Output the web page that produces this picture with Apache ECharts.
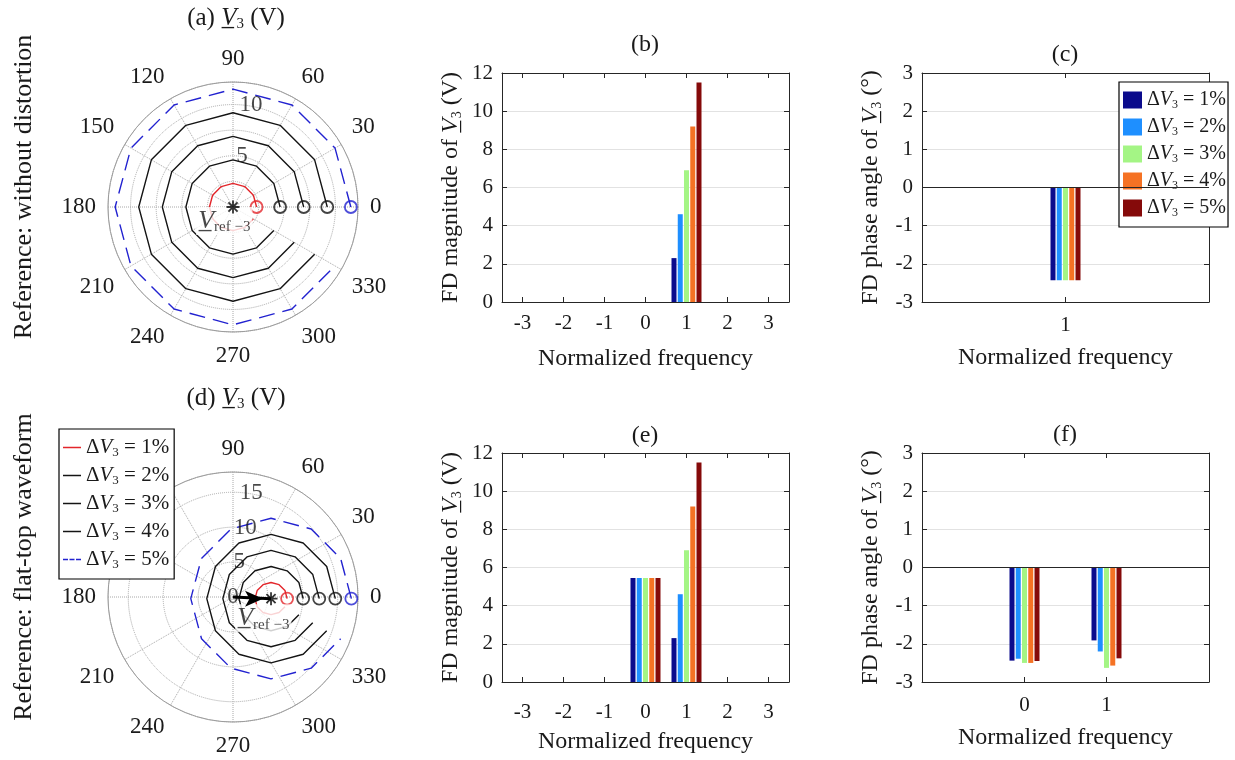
<!DOCTYPE html>
<html>
<head>
<meta charset="utf-8">
<script src="https://cdn.jsdelivr.net/npm/echarts@6/dist/echarts.min.js"></script>
<style>
  html, body { margin: 0; background: #fff; }
  #chart { width: 1235px; height: 760px; }
</style>
</head>
<body>
<div id="chart"></div>
<script>
const FONT = '"Liberation Serif", "Times New Roman", serif';
const INK = '#1a1a1a';

// ---- polar panels (a) and (d): trajectory samples, one every 30 degrees ----
const angles = [0, 30, 60, 90, 120, 150, 180, 210, 240, 270, 300, 330];
const radiiA = [2.3, 4.6, 6.9, 9.2, 11.5];   // (a) circles around the origin
const radTicksA = [5, 10];
const radTicksD = [5, 10, 15];

// (d) circles shifted by the DC component: radius / angle of each sample
const dR1 = [7.75, 7.50, 6.83, 5.83, 4.65, 3.58, 3.16, 3.72, 4.84, 6.01, 6.96, 7.57];
const dA1 = [358.3, 7.1, 15.0, 20.8, 22.3, 14.9, 355.8, 338.2, 332.7, 335.1, 341.4, 349.5];
const dR2 = [10.05, 9.66, 8.61, 6.99, 4.90, 2.54, 0.88, 2.92, 5.26, 7.28, 8.82, 9.77];
const dA2 = [358.7, 12.4, 25.8, 38.7, 50.0, 54.7, 344.9, 300.1, 306.8, 318.4, 331.5, 345.0];
const dR3 = [12.35, 11.87, 10.59, 8.61, 6.08, 3.26, 1.47, 3.72, 6.52, 8.97, 10.85, 12.00];
const dA3 = [358.9, 15.7, 32.9, 50.8, 70.8, 99.3, 189.0, 261.9, 287.9, 307.4, 325.1, 342.1];
const dR4 = [14.65, 14.11, 12.68, 10.50, 7.78, 5.04, 3.76, 5.45, 8.24, 10.89, 12.97, 14.26];
const dA4 = [359.1, 18.0, 37.6, 58.7, 83.7, 119.9, 183.5, 242.5, 275.9, 300.0, 320.8, 340.2];
const dR5 = [16.95, 16.37, 14.84, 12.52, 9.73, 7.13, 6.05, 7.49, 10.19, 12.93, 15.14, 16.53];
const dA5 = [359.2, 19.7, 41.0, 64.2, 91.8, 129.3, 182.2, 233.0, 268.3, 294.9, 317.7, 338.8];
const dcPoint = [5.45, 357.55];

// ---- bar panels ----
const freqBE = ['-3', '-2', '-1', '0', '1', '2', '3'];
const freqC = ['1'];
const magF1 = [2.3, 4.6, 6.9, 9.2, 11.5];        // (b) and (e) at frequency 1
const magF0 = [5.45, 5.45, 5.45, 5.45, 5.45];    // (e) at frequency 0
const phaseC = [-2.43, -2.43, -2.43, -2.43, -2.43];
const phaseF0 = [-2.44, -2.39, -2.50, -2.50, -2.45];
const phaseF1 = [-1.91, -2.20, -2.63, -2.57, -2.38];
const pctLabels = ['1%', '2%', '3%', '4%', '5%'];

const curveColors = ['#e3262b', '#141414', '#141414', '#141414', '#2222d0'];
const curveTypes = ['solid', 'solid', 'solid', 'solid', [16, 8]];
const barColors = ['#0b0b8c', '#1e8fff', '#a4f585', '#f57224', '#850a0a'];

function rich(size) {
  return {
    n: { fontSize: size, fontFamily: FONT, color: INK, lineHeight: size + 2 },
    v: { fontSize: size, fontFamily: FONT, fontStyle: 'italic', color: INK, lineHeight: size + 2 },
    d: { fontSize: size, fontFamily: FONT, color: INK, lineHeight: size + 2 },
    s: { fontSize: Math.round(size * 0.6), fontFamily: FONT, color: INK, verticalAlign: 'bottom', lineHeight: Math.round(size * 0.42) }
  };
}
const UV = 'V\u0332';

const chart = echarts.init(document.getElementById('chart'));
const series = [];

// (a) curves
radiiA.forEach((r, k) => {
  series.push({
    type: 'line', name: 'p' + (k + 1), coordinateSystem: 'polar', polarIndex: 0,
    data: angles.map(a => [r, a]), symbol: 'none', color: curveColors[k],
    lineStyle: { width: 1.4, type: curveTypes[k] }, z: 3, silent: true
  });
});
// (d) curves
[[dR1, dA1], [dR2, dA2], [dR3, dA3], [dR4, dA4], [dR5, dA5]].forEach(([rs, as], k) => {
  series.push({
    type: 'line', name: 'p' + (k + 1), coordinateSystem: 'polar', polarIndex: 1,
    data: rs.map((r, i) => [r, as[i]]), symbol: 'none', color: curveColors[k],
    lineStyle: { width: 1.4, type: curveTypes[k] }, z: 3, silent: true
  });
});
// start markers
const markerStyle = { color: 'rgba(0,0,0,0)', borderWidth: 1.8 };
series.push({
  type: 'scatter', name: 'mA', coordinateSystem: 'polar', polarIndex: 0, symbol: 'circle', symbolSize: 12,
  itemStyle: markerStyle, z: 4, silent: true,
  data: radiiA.map((r, k) => ({ value: [r, 0], itemStyle: { borderColor: curveColors[k] } }))
});
series.push({
  type: 'scatter', name: 'mD', coordinateSystem: 'polar', polarIndex: 1, symbol: 'circle', symbolSize: 12,
  itemStyle: markerStyle, z: 4, silent: true,
  data: [[dR1, dA1], [dR2, dA2], [dR3, dA3], [dR4, dA4], [dR5, dA5]].map(([rs, as], k) =>
    ({ value: [rs[0], as[0]], itemStyle: { borderColor: curveColors[k] } }))
});
// V_ref-3 labels
const refLabel = {
  show: true, position: 'inside', formatter: '{v|' + UV + '}{s|ref \u22123}',
  backgroundColor: '#fff', padding: [0, 2, 0, 2],
  rich: {
    v: { fontSize: 26, fontFamily: FONT, fontStyle: 'italic', color: INK, lineHeight: 28 },
    s: { fontSize: 15, fontFamily: FONT, color: INK, verticalAlign: 'bottom', lineHeight: 12 }
  }
};
series.push({
  type: 'scatter', name: 'refA', coordinateSystem: 'polar', polarIndex: 0, symbolSize: 1,
  itemStyle: { color: 'rgba(0,0,0,0)' }, z: 5, silent: true, label: refLabel, data: [[1.6, 238]]
});
series.push({
  type: 'scatter', name: 'refD', coordinateSystem: 'polar', polarIndex: 1, symbolSize: 1,
  itemStyle: { color: 'rgba(0,0,0,0)' }, z: 5, silent: true, label: refLabel, data: [[5.3, 325]]
});
// radial tick labels
const radLabel = { show: true, position: 'inside', formatter: '{b}', fontSize: 23, fontFamily: FONT, color: INK };
series.push({
  type: 'scatter', name: 'rtA', coordinateSystem: 'polar', polarIndex: 0, symbolSize: 1,
  itemStyle: { color: 'rgba(0,0,0,0)' }, z: 4, silent: true, label: radLabel,
  data: radTicksA.map(t => ({ value: [t + 0.1, 80], name: String(t) }))
});
series.push({
  type: 'scatter', name: 'rtD', coordinateSystem: 'polar', polarIndex: 1, symbolSize: 1,
  itemStyle: { color: 'rgba(0,0,0,0)' }, z: 4, silent: true, label: radLabel,
  data: [{ value: [0, 0], name: '0' }].concat(radTicksD.map(t => ({ value: [t + 0.1, 80], name: String(t) })))
});
// arrow to the DC point in (d)
series.push({
  type: 'line', name: 'arrow', coordinateSystem: 'polar', polarIndex: 1, symbol: 'none', silent: true, z: 6,
  color: '#000', lineStyle: { width: 3, color: '#000' },
  data: [{ value: [0, 0] }, { value: dcPoint, symbol: 'arrow', symbolSize: [12, 18], symbolRotate: -90, symbolOffset: [-8, 0] }]
});
// asterisks
const star = 'path://M10,0V20M0,10H20M3,3L17,17M3,17L17,3';
series.push({
  type: 'scatter', name: 'starA', coordinateSystem: 'polar', polarIndex: 0, symbol: star, symbolSize: 13,
  itemStyle: { color: 'rgba(0,0,0,0)', borderColor: '#000', borderWidth: 1.8 }, z: 7, silent: true, data: [[0, 0]]
});
series.push({
  type: 'scatter', name: 'starD', coordinateSystem: 'polar', polarIndex: 1, symbol: star, symbolSize: 13,
  itemStyle: { color: 'rgba(0,0,0,0)', borderColor: '#000', borderWidth: 1.8 }, z: 7, silent: true, data: [dcPoint]
});

// ---- bar grids ----
const grids = [
  { left: 502, top: 73, width: 287, height: 229 },   // (b)
  { left: 922, top: 73, width: 287, height: 229 },   // (c)
  { left: 502, top: 453, width: 287, height: 229 },  // (e)
  { left: 922, top: 453, width: 287, height: 229 }   // (f)
];
const axLine = { show: true, onZero: false, lineStyle: { color: '#262626', width: 1 } };
const axTick = { show: true, inside: true, length: 5, lineStyle: { color: '#262626' } };
const tickFont = { fontSize: 21, fontFamily: FONT, color: INK };
const nameFont = { fontSize: 24, fontFamily: FONT, color: INK, rich: rich(24) };

const xSpecs = [
  { cats: freqBE, margin: 11, gap: 45 },
  { cats: freqC, margin: 13, gap: 44 },
  { cats: freqBE, margin: 20, gap: 48 },
  { value: true, margin: 13, gap: 44 }
];
const ySpecs = [
  { min: 0, max: 12, interval: 2, name: 'FD magnitude of {v|' + UV + '}{s|3}{n| (V)}' },
  { min: -3, max: 3, interval: 1, name: 'FD phase angle of {v|' + UV + '}{s|3}{n| (\u00b0)}' },
  { min: 0, max: 12, interval: 2, name: 'FD magnitude of {v|' + UV + '}{s|3}{n| (V)}' },
  { min: -3, max: 3, interval: 1, name: 'FD phase angle of {v|' + UV + '}{s|3}{n| (\u00b0)}' }
];

const xAxis = [];
const yAxis = [];
xSpecs.forEach((s, g) => {
  const base = s.value
    ? { type: 'value', min: -1.25, max: 2.25, splitLine: { show: false } }
    : { type: 'category', data: s.cats, boundaryGap: true, splitLine: { show: false } };
  const tick = s.value ? Object.assign({}, axTick, { customValues: [0, 1] }) : Object.assign({}, axTick, { alignWithLabel: true });
  xAxis.push(Object.assign({}, base, {
    gridIndex: g, position: 'bottom', axisLine: axLine, axisTick: tick,
    axisLabel: Object.assign({ margin: s.margin }, tickFont, s.value ? { customValues: [0, 1] } : {}),
    name: 'Normalized frequency', nameLocation: 'middle', nameGap: s.gap, nameTextStyle: nameFont
  }));
  xAxis.push(Object.assign({}, base, {
    gridIndex: g, position: 'top', axisLine: axLine, axisTick: tick, axisLabel: { show: false }
  }));
  const y = ySpecs[g];
  yAxis.push({
    type: 'value', gridIndex: g, position: 'left', min: y.min, max: y.max, interval: y.interval,
    axisLine: axLine, axisTick: axTick, axisLabel: Object.assign({ margin: 9 }, tickFont),
    splitLine: { show: true, lineStyle: { color: '#e2e2e2', width: 1 } },
    name: y.name, nameLocation: 'middle', nameRotate: 90, nameGap: 38, nameTextStyle: nameFont
  });
  yAxis.push({
    type: 'value', gridIndex: g, position: 'right', min: y.min, max: y.max, interval: y.interval,
    axisLine: axLine, axisTick: axTick, axisLabel: { show: false }, splitLine: { show: false }
  });
});

const zeroLine = {
  silent: true, symbol: 'none', label: { show: false },
  lineStyle: { color: '#262626', type: 'solid', width: 1 }, data: [{ yAxis: 0 }]
};
function bars(g, k, data) {
  const s = {
    type: 'bar', name: 'b' + (k + 1), xAxisIndex: 2 * g, yAxisIndex: 2 * g, data: data,
    barWidth: 5, barGap: '25%', itemStyle: { color: barColors[k] }, silent: true, z: 3
  };
  if (k === 0 && (g === 1 || g === 3)) s.markLine = zeroLine;
  return s;
}
for (let k = 0; k < 5; k++) {
  series.push(bars(0, k, [['1', magF1[k]]]));
  series.push(bars(1, k, [['1', phaseC[k]]]));
  series.push(bars(2, k, [['0', magF0[k]], ['1', magF1[k]]]));
  series.push(bars(3, k, [[0, phaseF0[k]], [1, phaseF1[k]]]));
}

const legendText = name => {
  const k = parseInt(name.slice(1), 10) - 1;
  return '{d|\u0394}{v|V}{s|3}{n| = ' + pctLabels[k] + '}';
};
const legendCommon = {
  orient: 'vertical', selectedMode: false, borderColor: '#000', borderWidth: 1.2,
  backgroundColor: '#fff', itemGap: 6, formatter: legendText,
  itemStyle: { borderWidth: 0 },
  textStyle: { fontSize: 21, fontFamily: FONT, color: INK, rich: rich(21) }
};
const iconSolid = 'path://M0,0H18V1.5H0Z';
const iconDash = 'path://M0,0H5V1.5H0ZM6.5,0H11.5V1.5H6.5ZM13,0H18V1.5H13Z';

const panelTitle = (x, y, text, size) => ({
  type: 'text', x: x, y: y, silent: true,
  style: { text: text, rich: rich(size), fontSize: size, fontFamily: FONT, fill: INK, align: 'center', verticalAlign: 'middle' }
});

chart.setOption({
  animation: false,
  backgroundColor: '#fff',
  textStyle: { fontFamily: FONT },
  polar: [
    { center: [233, 207], radius: 125 },
    { center: [233, 597], radius: 125 }
  ],
  angleAxis: [0, 1].map(i => ({
    polarIndex: i, type: 'value', min: 0, max: 360, interval: 30, startAngle: 0, clockwise: false,
    axisLine: { show: true, lineStyle: { color: '#9c9c9c', width: 1 } },
    axisTick: { show: false },
    axisLabel: { fontSize: 23, fontFamily: FONT, color: INK, margin: 12, formatter: v => (v === 360 ? '' : String(v)) },
    splitLine: { show: true, lineStyle: { color: '#a8a8a8', type: 'dotted', width: 1 } }
  })),
  radiusAxis: [
    { polarIndex: 0, type: 'value', min: 0, max: 12.2, interval: 2.5 },
    { polarIndex: 1, type: 'value', min: 0, max: 17.9, interval: 5 }
  ].map(r => Object.assign(r, {
    axisLine: { show: false }, axisTick: { show: false }, axisLabel: { show: false },
    splitLine: { show: true, lineStyle: { color: '#a8a8a8', type: 'dotted', width: 1 } }
  })),
  grid: grids,
  xAxis: xAxis,
  yAxis: yAxis,
  legend: [
    Object.assign({}, legendCommon, {
      left: 1119, top: 82, padding: [8, 2, 8, 4], itemWidth: 19, itemHeight: 17,
      textStyle: { fontSize: 20, fontFamily: FONT, color: INK, rich: rich(20) },
      data: ['b1', 'b2', 'b3', 'b4', 'b5'].map(n => ({ name: n, icon: 'rect' }))
    }),
    Object.assign({}, legendCommon, {
      left: 59, top: 429, padding: [8, 5, 8, 4], itemWidth: 18, itemHeight: 1.5,
      data: ['p1', 'p2', 'p3', 'p4', 'p5'].map((n, k) => ({ name: n, icon: k === 4 ? iconDash : iconSolid }))
    })
  ],
  graphic: [
    panelTitle(236, 18, '{n|(a) }{v|' + UV + '}{s|3}{n| (V)}', 25),
    panelTitle(236, 398, '{n|(d) }{v|' + UV + '}{s|3}{n| (V)}', 25),
    panelTitle(645, 45, '{n|(b)}', 24),
    panelTitle(1065, 55, '{n|(c)}', 24),
    panelTitle(645, 436, '{n|(e)}', 24),
    panelTitle(1065, 435, '{n|(f)}', 24),
    {
      type: 'text', x: 24, y: 187, rotation: Math.PI / 2, silent: true,
      style: { text: 'Reference: without distortion', fontSize: 26, fontFamily: FONT, fill: INK, align: 'center', verticalAlign: 'middle' }
    },
    {
      type: 'text', x: 24, y: 567, rotation: Math.PI / 2, silent: true,
      style: { text: 'Reference: flat-top waveform', fontSize: 26, fontFamily: FONT, fill: INK, align: 'center', verticalAlign: 'middle' }
    }
  ],
  series: series
});
</script>
</body>
</html>
